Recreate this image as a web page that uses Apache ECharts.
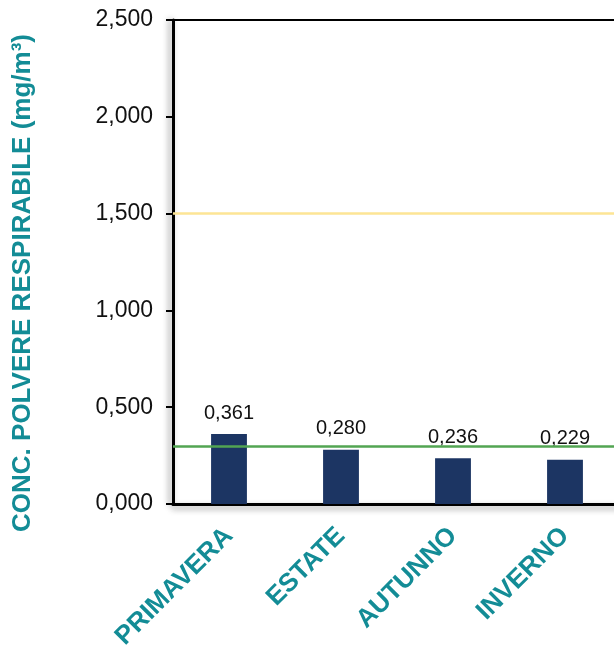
<!DOCTYPE html>
<html>
<head>
<meta charset="utf-8">
<script src="https://cdn.jsdelivr.net/npm/echarts@6/dist/echarts.min.js"></script>
<style>html,body{margin:0;padding:0;background:#fff;overflow:hidden;width:614px;height:646px;}#c{width:624px;height:646px;}</style>
</head>
<body>
<div id="c"></div>
<script>
const categories = ['PRIMAVERA', 'ESTATE', 'AUTUNNO', 'INVERNO'];
const values = [0.361, 0.280, 0.236, 0.229];
const thresholdValues = [0.3, 1.5];
const yTicks = [0, 0.5, 1, 1.5, 2, 2.5];
const yTitle = 'CONC. POLVERE RESPIRABILE (mg/m³)';

const fmt = v => Number(v).toFixed(3).replace('.', ',');
const FONT = '"Liberation Sans", Arial, sans-serif';
const TEAL = '#138c96';

const chart = echarts.init(document.getElementById('c'), null, {renderer: 'canvas'});
chart.setOption({
  animation: false,
  backgroundColor: '#ffffff',
  grid: {left: 173, top: 20, right: 3, bottom: 142, show: true, borderColor: '#000', borderWidth: 2, containLabel: false, outerBoundsMode: 'none'},
  xAxis: {
    type: 'category',
    data: categories,
    axisLine: {show: true, lineStyle: {color: '#000', width: 3, shadowColor: 'rgba(0,0,0,0.4)', shadowBlur: 6, shadowOffsetY: 3}},
    axisTick: {show: false},
    axisLabel: {interval: 0, rotate: 45, margin: 28, color: TEAL, fontFamily: FONT, fontWeight: 'bold', fontSize: 26}
  },
  yAxis: {
    type: 'value',
    min: yTicks[0],
    max: yTicks[yTicks.length - 1],
    interval: 0.5,
    splitLine: {show: false},
    axisLine: {show: true, lineStyle: {color: '#000', width: 3, shadowColor: 'rgba(0,0,0,0.4)', shadowBlur: 6, shadowOffsetX: -3}},
    axisTick: {show: true, inside: false, length: 7, lineStyle: {color: '#000', width: 2}},
    axisLabel: {margin: 20, color: '#111', fontFamily: FONT, fontSize: 23, formatter: fmt}
  },
  series: [{
    type: 'bar',
    data: values,
    barWidth: '32%',
    itemStyle: {color: '#1c3563'},
    label: {show: true, position: 'top', distance: 11, color: '#111', fontFamily: FONT, fontSize: 20, formatter: p => fmt(p.value)},
    markLine: {
      silent: true,
      symbol: 'none',
      label: {show: false},
      data: [
        {yAxis: thresholdValues[0], lineStyle: {color: '#52a552', width: 2.5, type: 'solid'}},
        {yAxis: thresholdValues[1], lineStyle: {color: '#fde595', width: 2.5, type: 'solid'}}
      ]
    }
  }],
  graphic: [{
    type: 'text',
    x: 23, y: 283,
    rotation: Math.PI / 2,
    style: {text: yTitle, fill: TEAL, font: 'bold 26px ' + FONT, textAlign: 'center', textVerticalAlign: 'middle'}
  }]
});
</script>
</body>
</html>
